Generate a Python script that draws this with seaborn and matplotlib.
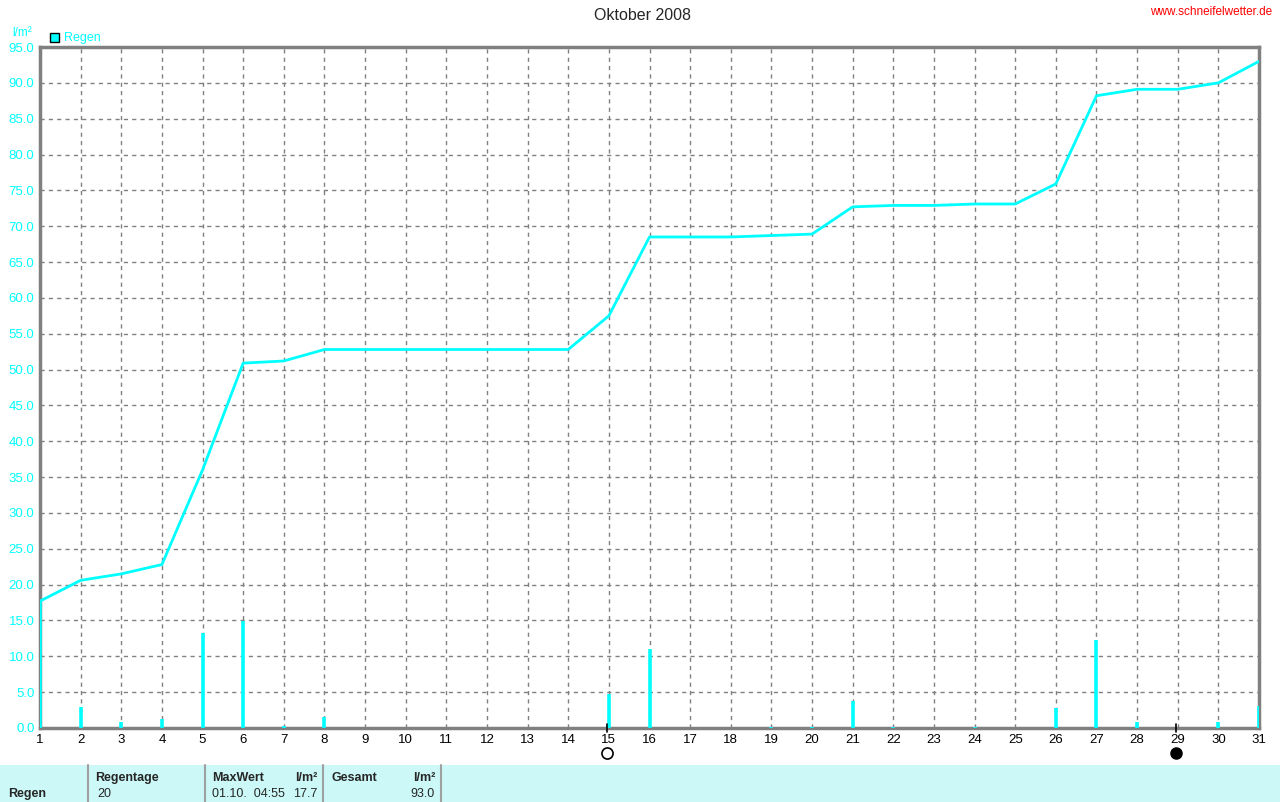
import numpy as np
import pandas as pd
import matplotlib.pyplot as plt
import seaborn as sns

# Tagesniederschlag Oktober 2008 (l/m²)
days = list(range(1, 32))
rain = [17.7, 2.9, 0.9, 1.3, 13.2, 14.9, 0.3, 1.6, 0.0, 0.0,
        0.0, 0.0, 0.0, 0.0, 4.7, 11.0, 0.0, 0.0, 0.2, 0.2,
        3.8, 0.2, 0.0, 0.2, 0.0, 2.8, 12.3, 0.9, 0.0, 0.9, 3.0]
yticks = np.arange(0, 95.1, 5.0)
full_moon_day = 15
new_moon_day = 29

df = pd.DataFrame({"Tag": days, "Regen": rain})
df["Summe"] = df["Regen"].cumsum()

sns.set_style("white")
plt.rcParams["font.family"] = ["Liberation Sans", "DejaVu Sans"]

cyan = "#00FFFF"
grey = "#808080"

fig = plt.figure(figsize=(12.8, 8.02), dpi=100)
ax = fig.add_axes([40 / 1280, 1 - 728 / 802, 1219 / 1280, 681 / 802])

# Tageswerte als schmale Balken, Monatssumme als Linie
ax.vlines(df["Tag"], 0, df["Regen"], color=cyan, linewidth=2.6, zorder=3)
sns.lineplot(data=df, x="Tag", y="Summe", color=cyan, linewidth=2, ax=ax, zorder=4)

ax.set_xlim(1, 31)
ax.set_ylim(0, 95)
ax.set_xticks(days)
ax.set_yticks(yticks)
ax.set_yticklabels([f"{v:.1f}" for v in yticks], color=cyan, fontsize=9.5)
ax.set_xticklabels([str(d) for d in days], color="black", fontsize=9.5)
ax.tick_params(axis="both", length=0, pad=4)
ax.grid(True, linestyle=(0, (3, 3)), color=grey, linewidth=1)
ax.set_axisbelow(True)
for s in ax.spines.values():
    s.set_color(grey)
    s.set_linewidth(2.5)
ax.set_xlabel("")
ax.set_ylabel("")

# Mondphasen
for d in (full_moon_day, new_moon_day):
    ax.plot([d - 0.05, d - 0.05], [-0.6, 0.6], color="black", lw=1.2,
            clip_on=False, zorder=5)
ax.plot(full_moon_day - 0.05, -3.5, "o", ms=8, mfc="white", mec="black",
        mew=1.2, clip_on=False)
ax.plot(new_moon_day - 0.05, -3.5, "o", ms=8, mfc="black", mec="black",
        clip_on=False)

# Titel und Beschriftungen
fig.text(642 / 1280, 1 - 15 / 802, "Oktober 2008", ha="center", va="center",
         fontsize=11.5)
fig.text(1272 / 1280, 1 - 12 / 802, "www.schneifelwetter.de", ha="right",
         va="center", color="red", fontsize=8.5)
fig.text(12 / 1280, 1 - 33 / 802, "l/m²", color=cyan, fontsize=8.5,
         va="center")
fig.patches.append(plt.Rectangle((50 / 1280, 1 - 42 / 802), 9 / 1280, 9 / 802,
                                 transform=fig.transFigure, facecolor=cyan,
                                 edgecolor="black", lw=1))
fig.text(64 / 1280, 1 - 38 / 802, "Regen", color=cyan, fontsize=9,
         va="center")

# Tabelle unten
fig.patches.append(plt.Rectangle((0, 0), 1, 37 / 802, transform=fig.transFigure,
                                 facecolor="#CCF8F8", edgecolor="none"))
for x in (88, 205, 323, 441):
    fig.add_artist(plt.Line2D([x / 1280, x / 1280], [0, 37 / 802],
                              transform=fig.transFigure, color="#A0A0A0", lw=1.5))
row1 = 1 - 778 / 802
row2 = 1 - 794 / 802
fig.text(8 / 1280, row2, "Regen", fontweight="bold", fontsize=9, va="center")
fig.text(95 / 1280, row1, "Regentage", fontweight="bold", fontsize=9, va="center")
fig.text(97 / 1280, row2, str(int((df["Regen"] > 0).sum())), fontsize=9,
         va="center")
fig.text(212 / 1280, row1, "MaxWert", fontweight="bold", fontsize=9, va="center")
fig.text(317 / 1280, row1, "l/m²", fontweight="bold", fontsize=9, va="center",
         ha="right")
fig.text(212 / 1280, row2, "01.10.  04:55", fontsize=9, va="center")
fig.text(317 / 1280, row2, f"{df['Regen'].max():.1f}", fontsize=9, va="center",
         ha="right")
fig.text(331 / 1280, row1, "Gesamt", fontweight="bold", fontsize=9, va="center")
fig.text(435 / 1280, row1, "l/m²", fontweight="bold", fontsize=9, va="center",
         ha="right")
fig.text(435 / 1280, row2, f"{df['Summe'].iloc[-1]:.1f}", fontsize=9,
         va="center", ha="right")

fig.savefig("out.png", dpi=100)
